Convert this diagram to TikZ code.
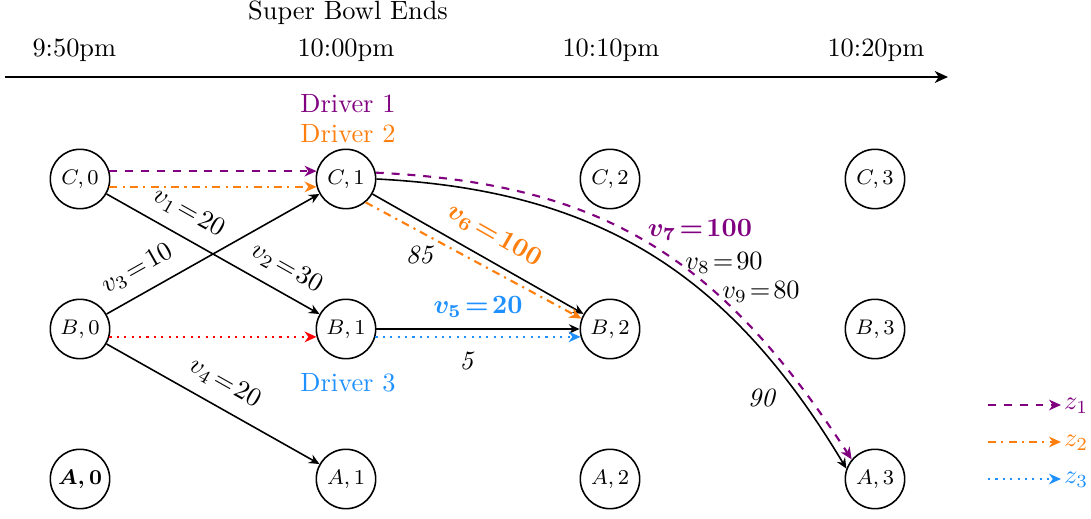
\documentclass[tikz,border=0pt]{standalone}
\usetikzlibrary{arrows.meta}
\definecolor{dpurple}{RGB}{128,0,128}
\definecolor{dorange}{RGB}{255,127,14}
\definecolor{dblue}{RGB}{30,144,255}
\definecolor{dred}{RGB}{255,0,0}
\begin{document}
\begin{tikzpicture}[x=0.3788pt,y=0.3788pt,
  st/.style={circle,draw,semithick,minimum size=22.5pt,inner sep=0pt,font=\footnotesize},
  blk/.style={semithick,-{Stealth[length=4pt,width=3.6pt,inset=1.4pt]}},
  col/.style={thick,-{Stealth[length=4.5pt,width=4pt,inset=1.4pt]}},
  pur/.style={col,dpurple,dashed},
  ora/.style={col,dorange,dash dot},
  blu/.style={col,dblue,dotted},
  rdd/.style={col,dred,dotted},
  bf/.style={font=\boldmath},
  lab/.style={sloped,above=1.5pt}]
\useasboundingbox (0,0) rectangle (1091,-519);
% time axis
\node[anchor=west,inner sep=0pt] (t0) at (32,-50) {9:50pm};
\node[anchor=west,inner sep=0pt] (t1) at (297,-50) {10:00pm};
\node[anchor=west,inner sep=0pt] (t2) at (562,-50) {10:10pm};
\node[anchor=west,inner sep=0pt] (t3) at (827,-50) {10:20pm};
\node[inner sep=0pt] (sb) at (348,-13) {Super Bowl Ends};
\coordinate (ax0) at (5,-77);
\coordinate (ax1) at (948,-77);
\draw[thick,-{Stealth[length=5pt,width=4.5pt,inset=1.5pt]}] (ax0) -- (ax1);
% drivers
\node[text=dpurple] (d1) at (348,-104) {Driver 1};
\node[text=dorange] (d2) at (348,-134) {Driver 2};
\node[text=dblue] (d3) at (348,-383) {Driver 3};
% states
\node[st] (C0) at (80,-179) {$C,0$};
\node[st] (C1) at (346,-179) {$C,1$};
\node[st] (C2) at (610,-179) {$C,2$};
\node[st] (C3) at (875,-179) {$C,3$};
\node[st] (B0) at (80,-329) {$B,0$};
\node[st] (B1) at (346,-329) {$B,1$};
\node[st] (B2) at (610,-329) {$B,2$};
\node[st] (B3) at (875,-329) {$B,3$};
\node[st,font=\footnotesize\boldmath] (A0) at (80,-479) {$A,0$};
\node[st] (A1) at (346,-479) {$A,1$};
\node[st] (A2) at (610,-479) {$A,2$};
\node[st] (A3) at (875,-479) {$A,3$};
% black arcs
\draw[blk] (C0) -- node[lab,pos=0.33]{$v_1\!=\!20$} node[lab,pos=0.79]{$v_2\!=\!30$} (B1);
\draw[blk] (B0) -- node[lab,pos=0.2]{$v_3\!=\!10$} (C1);
\draw[blk] (B0) -- node[lab,pos=0.5]{$v_4\!=\!20$} (A1);
\draw[blk] (C1) -- node[lab,bf,pos=0.52,text=dorange]{$v_6\!=\!100$} (B2);
\draw[blk] (B1) -- (B2);
\draw[blk] (C1.east) .. controls +(220,-11) and +(-118,197) .. (A3.160);
% coloured arcs
\draw[pur] (C0.15) -- (C1.165);
\draw[ora] (C0.-15) -- (C1.195);
\draw[rdd] (B0.-15) -- (B1.195);
\draw[blu] (B1.-15) -- (B2.195);
\draw[ora] (C1.-50) -- (B2.160);
\draw[pur] (C1.12) .. controls +(230,-11) and +(-131,201) .. (A3.140);
% labels
\node[bf,text=dblue] (l5) at (478,-307) {$v_5\!=\!20$};
\node (l5b) at (467,-361) {\textit{5}};
\node (l85) at (420,-255) {\textit{85}};
\node[bf,text=dpurple] (l7) at (700,-230) {$v_7\!=\!100$};
\node (l8) at (724,-263) {$v_8\!=\!90$};
\node (l9) at (761,-292) {$v_9\!=\!80$};
\node (l90) at (762,-398) {\textit{90}};
% legend
\coordinate (g1) at (988,-405);
\coordinate (g2) at (988,-442);
\coordinate (g3) at (988,-479);
\node[anchor=west,inner sep=1pt,text=dpurple] (z1) at (1061,-406) {$z_1$};
\node[anchor=west,inner sep=1pt,text=dorange] (z2) at (1061,-443) {$z_2$};
\node[anchor=west,inner sep=1pt,text=dblue] (z3) at (1061,-480) {$z_3$};
\draw[pur] (g1) -- (g1 -| z1.west);
\draw[ora] (g2) -- (g2 -| z2.west);
\draw[blu] (g3) -- (g3 -| z3.west);
\end{tikzpicture}
\end{document}
